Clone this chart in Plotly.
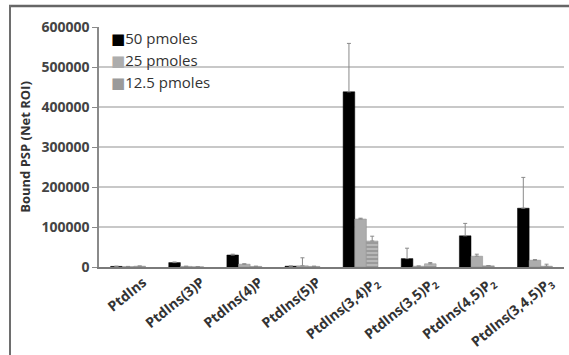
import plotly.graph_objects as go

categories = ["PtdIns", "PtdIns(3)P", "PtdIns(4)P", "PtdIns(5)P",
              "PtdIns(3,4)P<sub>2</sub>", "PtdIns(3,5)P<sub>2</sub>",
              "PtdIns(4,5)P<sub>2</sub>", "PtdIns(3,4,5)P<sub>3</sub>"]
vals_50 = [1500, 11000, 30000, 2000, 438000, 21000, 78000, 147000]
err_50 = [500, 1500, 2000, 500, 121000, 26000, 31000, 77000]
vals_25 = [1000, 1500, 7000, 3000, 120000, 2000, 27000, 17000]
err_25 = [500, 500, 1000, 20000, 2000, 500, 5000, 1500]
vals_12 = [2000, 500, 1500, 1500, 65000, 8000, 3000, 2000]
err_12 = [500, 300, 500, 500, 12000, 3000, 500, 5000]
series_names = ["50 pmoles", "25 pmoles", "12.5 pmoles"]
series_colors = ["#000000", "#adadad", "#9a9a9a"]
y_ticks = [0, 100000, 200000, 300000, 400000, 500000, 600000]

fig = go.Figure()
err_style = dict(type="data", symmetric=False, color="#8a8a8a", thickness=1, width=2)
fig.add_bar(x=categories, y=vals_50, name=series_names[0],
            marker=dict(color=series_colors[0], line=dict(color="#000000", width=0.5)),
            error_y=dict(array=err_50, arrayminus=[0]*8, **err_style))
fig.add_bar(x=categories, y=vals_25, name=series_names[1],
            marker=dict(color=series_colors[1], line=dict(color="#8c8c8c", width=0.5)),
            error_y=dict(array=err_25, arrayminus=[0]*8, **err_style))
fig.add_bar(x=categories, y=vals_12, name=series_names[2],
            marker=dict(color=series_colors[2], line=dict(color="#8c8c8c", width=0.5),
                        pattern=dict(shape="-", fillmode="overlay", fgcolor="#ffffff",
                                     size=4, solidity=0.3)),
            error_y=dict(array=err_12, arrayminus=[0]*8, **err_style))

W, H = 569, 355
l, r, t, b = 99, 5, 27, 88
pw, ph = W - l - r, H - t - b
px_x = lambda v: (v - l) / pw
px_y = lambda v: (H - b - v) / ph
# outer frame (top and left edges)
fig.add_shape(type="line", xref="paper", yref="paper",
              x0=px_x(9), x1=px_x(W), y0=px_y(6), y1=px_y(6),
              line=dict(color="#666666", width=2.5))
fig.add_shape(type="line", xref="paper", yref="paper",
              x0=px_x(10), x1=px_x(10), y0=px_y(5), y1=px_y(H),
              line=dict(color="#6e6e6e", width=2))

# legend drawn as text entries
for i, (nm, col) in enumerate(zip(series_names, series_colors)):
    fig.add_annotation(xref="paper", yref="paper",
                       x=px_x(109), y=px_y(38 + 22 * i),
                       xanchor="left", yanchor="middle", showarrow=False,
                       text=f"<span style='color:{col};font-family:DejaVu Sans'>■</span>{nm}",
                       font=dict(size=15, color="#333333", family="Open Sans, sans-serif"))

fig.update_layout(
    width=W, height=H,
    margin=dict(l=l, r=r, t=t, b=b, autoexpand=False),
    paper_bgcolor="white", plot_bgcolor="white",
    barmode="group", bargap=0.40, bargroupgap=0,
    font=dict(family="Open Sans, Liberation Sans, sans-serif", color="#404040"),
    showlegend=False,
    xaxis=dict(tickangle=-39, showline=True, linecolor="#7a7a7a", linewidth=2,
               automargin=False, ticklabelshift=15,
               tickfont=dict(size=14, family="Open Sans, sans-serif", weight="bold", color="#333333"),
               showgrid=False, ticks=""),
    yaxis=dict(range=[0, 600000], tickvals=y_ticks, ticktext=[str(v) for v in y_ticks],
               automargin=False,
               showline=True, linecolor="#8a8a8a", linewidth=1.5,
               ticks="outside", ticklen=5, tickcolor="#8a8a8a",
               showgrid=True, gridcolor="#c8c8c8", gridwidth=1.5,
               zeroline=False,
               tickfont=dict(size=14, weight="bold", color="#444444"),
               title=dict(text="Bound PSP (Net ROI)", standoff=8,
                          font=dict(size=13, weight="bold", color="#333333"))),
)

fig.write_html("out.html", config={"displayModeBar": False},
               post_script="document.body.style.margin='0';document.body.style.overflow='hidden';")
